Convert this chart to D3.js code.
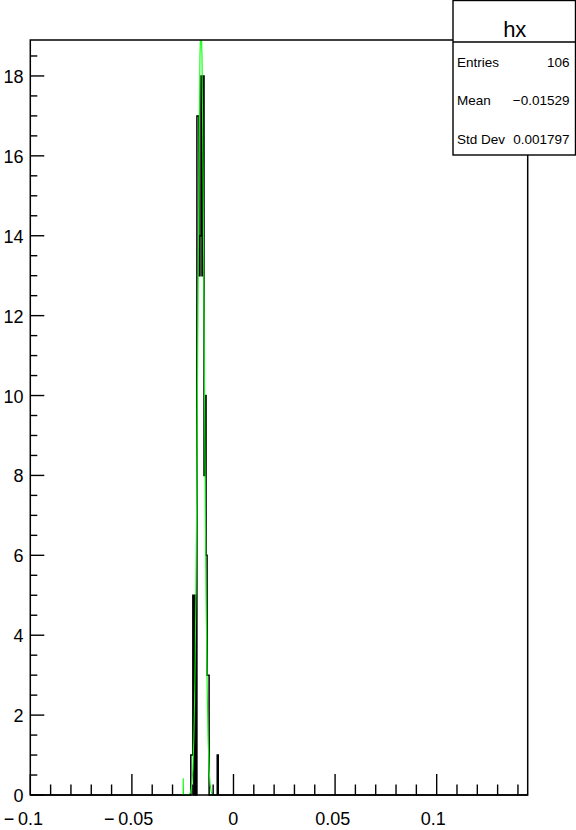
<!DOCTYPE html>
<html><head><meta charset="utf-8">
<script src="https://cdn.jsdelivr.net/npm/d3@7"></script>
<style>body{margin:0;background:#fff}svg{display:block}text{font-family:"Liberation Sans",Arial,sans-serif;fill:#000}</style>
</head><body><svg id="c" width="576" height="830"></svg>
<script>
// ---- data ----
const binWidth = 0.0005;
const binLow =   [-0.0210,-0.0205,-0.0200,-0.0195,-0.0190,-0.0185,-0.0180,-0.0175,-0.0170,-0.0165,-0.0160,-0.0155,-0.0150,-0.0145,-0.0140,-0.0135,-0.0130,-0.0125,-0.0080];
const binCount = [1,1,5,0,5,0,17,17,13,14,18,13,18,8,10,6,3,3,1];
const fitX = [-0.0252,-0.02475,-0.02475,-0.0246,-0.0225,-0.0220,-0.0215,-0.0210,-0.0205,-0.0200,-0.0195,-0.0190,-0.0185,-0.0180,-0.0175,-0.0170,-0.0165,-0.0160,-0.0155,-0.0150,-0.0145,-0.0140,-0.0135,-0.0130,-0.0125,-0.0120,-0.0115,-0.0110,-0.0105,-0.0100];
const fitY = [0,0,0.42,0,0,0.01,0.03,0.09,0.26,0.64,1.42,2.83,5.0,8.2,12.0,15.7,18.5,19.5,18.5,15.7,12.0,8.2,5.0,2.83,1.42,0.64,0.26,0.09,0.03,0.01];
const xMajor = [-0.1,-0.05,0,0.05,0.1];
const xLabels = ["\u2212\u20090.1","\u2212\u20090.05","0","0.05","0.1"];
const yMajor = [0,2,4,6,8,10,12,14,16,18];
const statsTitle = "hx";
const statsLabels = ["Entries","Mean","Std Dev"];
const statsValues = ["106","\u22120.01529","0.001797"];
const xDomain = [-0.1, 0.1448];
const yDomain = [0, 18.9];

// ---- layout ----
const L = 30.3, R = 527.7, T = 40, B = 795;
const xLabelEndDx = [12.7, 21.3, 4.8, 15.3, 9];
const svg = d3.select("#c");
const x = d3.scaleLinear().domain(xDomain).range([L, R]);
const y = d3.scaleLinear().domain(yDomain).range([B, T]);

// histogram as a step contour (ROOT "hist" style)
const pts = [[xDomain[0], 0]];
let prevEnd = null;
binLow.forEach((b, i) => {
  if (prevEnd === null || Math.abs(prevEnd - b) > 1e-9) pts.push([b, 0]);
  pts.push([b, binCount[i]]);
  pts.push([b + binWidth, binCount[i]]);
  const next = binLow[i + 1];
  if (next === undefined || Math.abs(next - (b + binWidth)) > 1e-9) pts.push([b + binWidth, 0]);
  prevEnd = b + binWidth;
});
pts.push([xDomain[1], 0]);
svg.append("path")
  .attr("d", d3.line().x(d => x(d[0])).y(d => y(d[1]))(pts))
  .attr("fill", "none").attr("stroke", "#000").attr("stroke-width", 1.5);

// fit curve (clipped to frame)
svg.append("clipPath").attr("id", "fr").append("rect")
  .attr("x", L).attr("y", T).attr("width", R - L).attr("height", B - T);
svg.append("path")
  .attr("clip-path", "url(#fr)")
  .attr("d", d3.line().x((d, i) => x(fitX[i])).y((d, i) => y(fitY[i]))(fitX))
  .attr("fill", "none").attr("stroke", "#00ff00").attr("stroke-width", 1.1);

// frame
svg.append("rect").attr("x", L).attr("y", T).attr("width", R - L).attr("height", B - T)
  .attr("fill", "none").attr("stroke", "#000").attr("stroke-width", 1.5);

// x axis ticks
const xMinor = d3.range(-0.1, 0.1449, 0.01).map(v => +v.toFixed(3));
svg.append("g").selectAll("line").data(xMinor).join("line")
  .attr("x1", d => x(d)).attr("x2", d => x(d))
  .attr("y1", B).attr("y2", d => (Math.abs(Math.round(d * 20) - d * 20) < 1e-6) ? B - 21 : B - 10.5)
  .attr("stroke", "#000").attr("stroke-width", 1.4);
svg.append("g").selectAll("text").data(xMajor).join("text")
  .attr("x", (d, i) => x(d) + xLabelEndDx[i]).attr("y", 825)
  .attr("text-anchor", "end").attr("font-size", 18)
  .text((d, i) => xLabels[i]);

// y axis ticks
const yMinor = d3.range(0, 18.9, 0.5);
svg.append("g").selectAll("line").data(yMinor).join("line")
  .attr("x1", L).attr("x2", d => (d % 2 === 0) ? L + 14 : L + 7)
  .attr("y1", d => y(d)).attr("y2", d => y(d))
  .attr("stroke", "#000").attr("stroke-width", 1.4);
svg.append("g").selectAll("text").data(yMajor).join("text")
  .attr("x", 23.5).attr("y", d => y(d) + 7)
  .attr("text-anchor", "end").attr("font-size", 18)
  .text(d => d);

// stats box
const sb = {x0: 453, x1: 575.5, y0: 0.5, yt: 42, y1: 155};
const g = svg.append("g");
g.append("rect").attr("x", sb.x0).attr("y", sb.y0).attr("width", sb.x1 - sb.x0).attr("height", sb.y1 - sb.y0)
  .attr("fill", "#fff").attr("stroke", "#000").attr("stroke-width", 1.4);
g.append("line").attr("x1", sb.x0).attr("x2", sb.x1).attr("y1", sb.yt).attr("y2", sb.yt)
  .attr("stroke", "#000").attr("stroke-width", 1.4);
g.append("text").attr("x", (sb.x0 + sb.x1) / 2 + 0.5).attr("y", 37).attr("text-anchor", "middle")
  .attr("font-size", 22).text(statsTitle);
statsLabels.forEach((lab, i) => {
  const yy = 66.5 + i * 38.5;
  g.append("text").attr("x", 457).attr("y", yy).attr("font-size", 13.5).text(lab);
  g.append("text").attr("x", 569.5).attr("y", yy).attr("text-anchor", "end").attr("font-size", 13.5).text(statsValues[i]);
});
</script></body></html>
